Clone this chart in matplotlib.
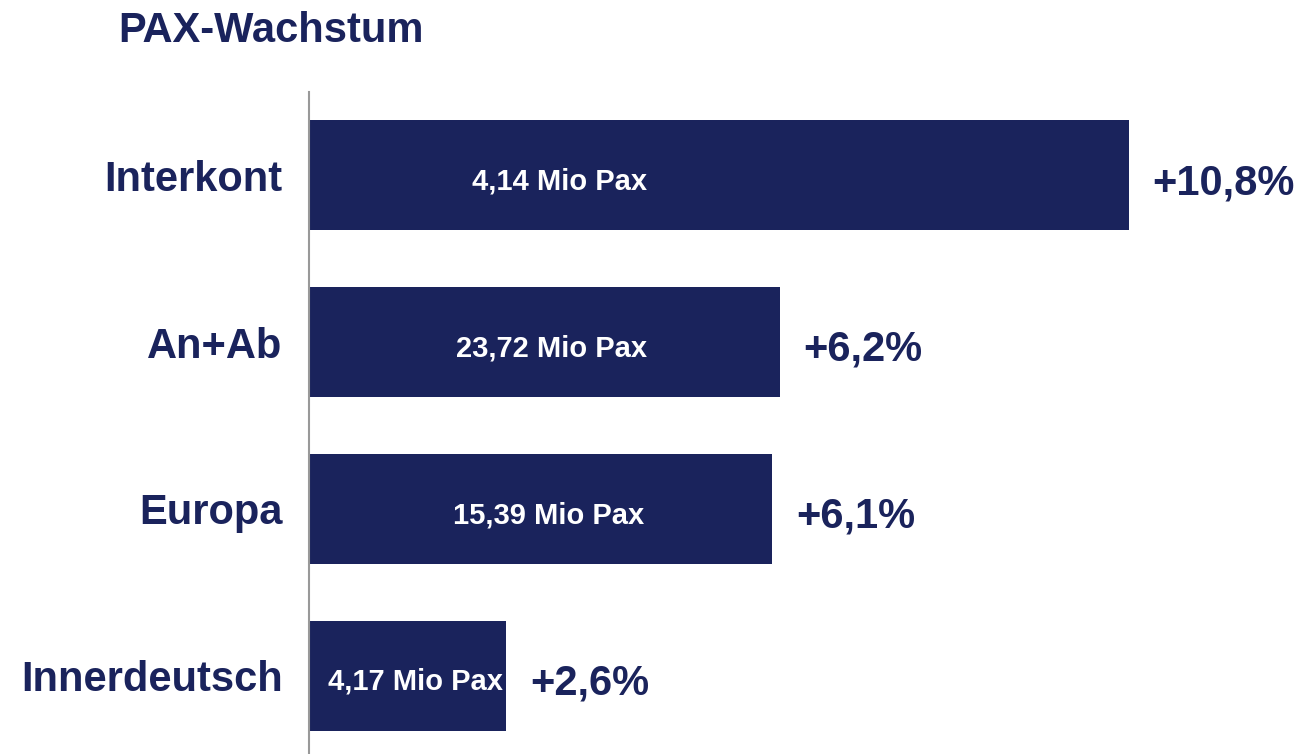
import matplotlib
matplotlib.use('Agg')
import matplotlib.pyplot as plt

categories = ['Interkont', 'An+Ab', 'Europa', 'Innerdeutsch']
growth = [10.8, 6.2, 6.1, 2.6]
growth_labels = ['+10,8%', '+6,2%', '+6,1%', '+2,6%']
pax_labels = ['4,14 Mio Pax', '23,72 Mio Pax', '15,39 Mio Pax', '4,17 Mio Pax']

navy = '#1a235c'
plt.rcParams['font.family'] = ['Liberation Sans', 'DejaVu Sans']
plt.rcParams['font.weight'] = 'bold'

fig = plt.figure(figsize=(12.97, 7.54), dpi=100)
ax = fig.add_axes([309 / 1297, 0, 1 - 309 / 1297, 1 - 92 / 754])

ypos = list(range(len(categories)))
ax.barh(ypos, growth, height=0.66, color=navy)

for y, g, gl, pl in zip(ypos, growth, growth_labels, pax_labels):
    # Mio Pax label inside the bar
    ax.text(min(g / 2 + 0.1, 3.3), y + 0.02, pl, color='white', fontsize=21,
            fontweight='bold', ha='center', va='center_baseline')
    ax.annotate(gl, (g, y + 0.02), xytext=(17, 0), textcoords='offset points',
                color=navy, fontsize=30, fontweight='bold', ha='left',
                va='center_baseline')

ax.set_xlim(0, 10.8 * (1297 - 309) / 820)
ax.set_ylim(3.47, -0.5)
ax.set_yticks(ypos)
ax.set_yticklabels(categories, fontsize=30, fontweight='bold', color=navy)
ax.tick_params(axis='y', length=0, pad=19)
ax.set_xticks([])
for s in ['top', 'right', 'bottom']:
    ax.spines[s].set_visible(False)
ax.spines['left'].set_color('#999999')
ax.spines['left'].set_linewidth(1.5)

fig.text(118 / 1297, 1 - 31 / 754, 'PAX-Wachstum', fontsize=30, fontweight='bold',
         color=navy, ha='left', va='center')

fig.savefig('out.png', dpi=100)
